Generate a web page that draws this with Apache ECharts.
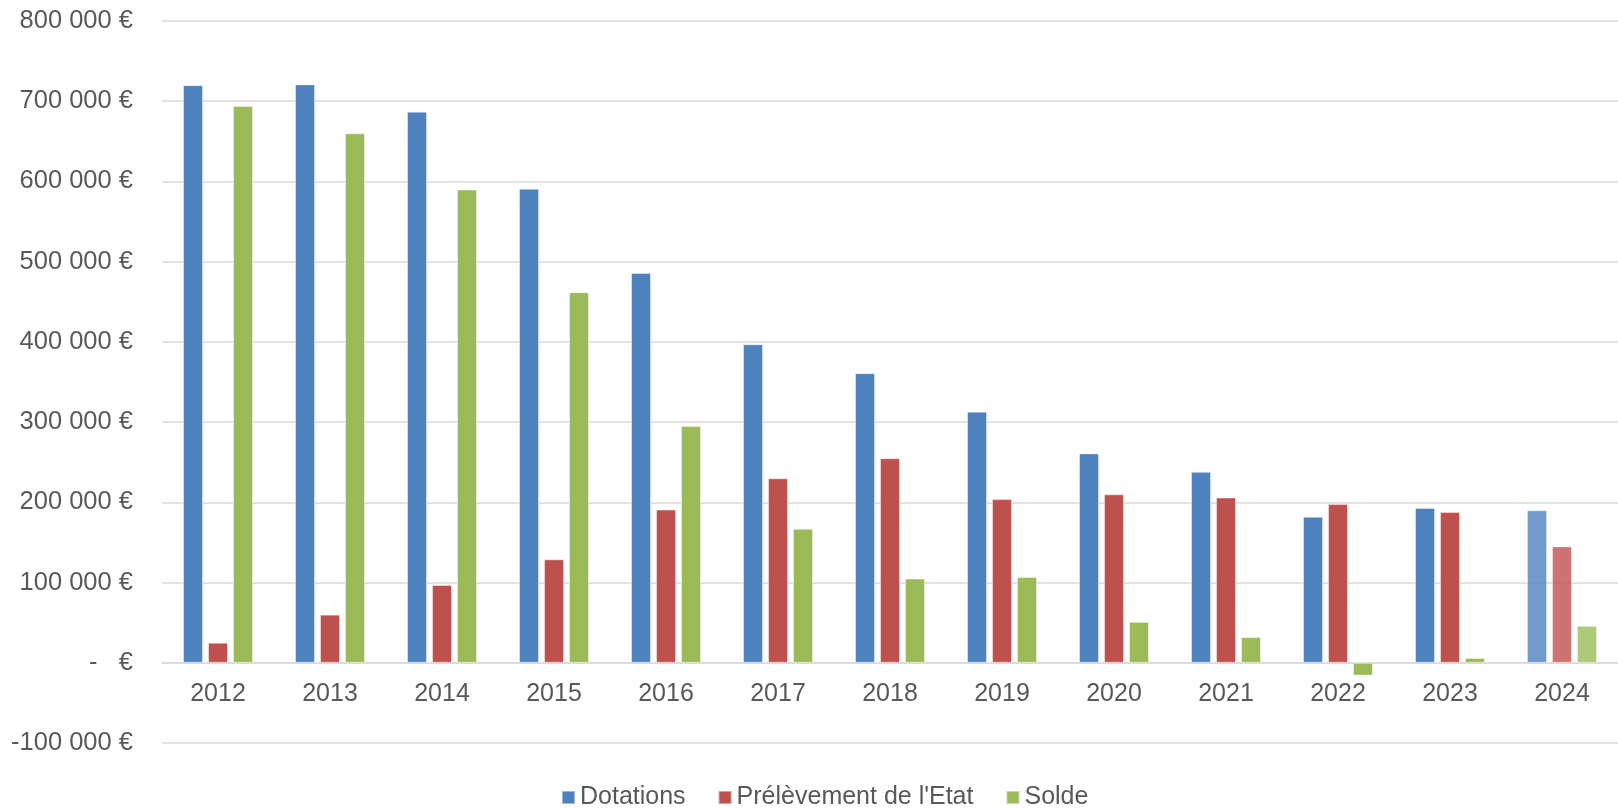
<!DOCTYPE html>
<html>
<head>
<meta charset="utf-8">
<script src="https://cdn.jsdelivr.net/npm/echarts@6/dist/echarts.min.js"></script>
<style>
  html, body { margin: 0; padding: 0; background: #ffffff; }
  #chart { width: 1618px; height: 808px; }
</style>
</head>
<body>
<div id="chart"></div>
<script>
// Années budgétaires
const years = ['2012', '2013', '2014', '2015', '2016', '2017', '2018', '2019', '2020', '2021', '2022', '2023', '2024'];

// Montants en euros
const dotations = [720000, 721000, 687000, 591000, 486000, 397000, 361000, 313000, 261000, 238000, 182000, 193000, 190000];
const prelevement = [25000, 60000, 97000, 129000, 191000, 230000, 255000, 204000, 210000, 206000, 198000, 188000, 145000];
const solde = [694000, 660000, 590000, 462000, 295000, 167000, 105000, 107000, 51000, 32000, -16000, 6000, 46000];

const seriesNames = ['Dotations', "Prélèvement de l'Etat", 'Solde'];
const colors = ['#4F81BD', '#C0504D', '#9BBB59'];

// La dernière année est une prévision : barres plus claires
const provisional = '2024';

const yMin = -100000, yMax = 800000, yStep = 100000;
const gridTop = 21, gridHeight = 722;

function euro(v) {
  if (v === 0) return '-   €';
  const sign = v < 0 ? '-' : '';
  const s = String(Math.abs(Math.round(v))).replace(/\B(?=(\d{3})+(?!\d))/g, ' ');
  return sign + s + ' €';
}

function toData(values) {
  return values.map((v, i) => years[i] === provisional
    ? { value: v, itemStyle: { opacity: 0.8 } }
    : v);
}

const textColor = '#595959';
const font = "'Liberation Sans', Arial, sans-serif";

// the category axis sits on the zero line of the value axis
const zeroOffset = -gridHeight * (0 - yMin) / (yMax - yMin);

const chart = echarts.init(document.getElementById('chart'), null, { renderer: 'canvas' });

chart.setOption({
  animation: false,
  color: colors,
  grid: { left: 162, right: 0, top: gridTop, height: gridHeight, containLabel: false },
  legend: {
    data: seriesNames,
    left: 561,
    top: 785,
    padding: 0,
    itemWidth: 13,
    itemHeight: 13,
    itemGap: 32,
    icon: 'rect',
    textStyle: { color: textColor, fontSize: 25, fontFamily: font }
  },
  xAxis: {
    type: 'category',
    data: years,
    position: 'bottom',
    offset: zeroOffset,
    axisLine: { onZero: false, lineStyle: { color: '#D9D9D9', width: 1.5 } },
    axisTick: { show: false },
    axisLabel: { color: textColor, fontSize: 25, fontFamily: font, margin: 19 }
  },
  yAxis: {
    type: 'value',
    min: yMin,
    max: yMax,
    interval: yStep,
    axisLine: { show: false },
    axisTick: { show: false },
    splitLine: { lineStyle: { color: '#D9D9D9', width: 1.5 } },
    axisLabel: {
      color: textColor, fontSize: 25.5, fontFamily: font, margin: 29,
      formatter: euro
    }
  },
  series: [
    { name: seriesNames[0], data: toData(dotations) },
    { name: seriesNames[1], data: toData(prelevement) },
    { name: seriesNames[2], data: toData(solde) }
  ].map(s => Object.assign({
    type: 'bar',
    barWidth: 20,
    barGap: '25%',
    itemStyle: { borderColor: 'rgba(255,255,255,0.45)', borderWidth: 1 }
  }, s))
});
</script>
</body>
</html>
